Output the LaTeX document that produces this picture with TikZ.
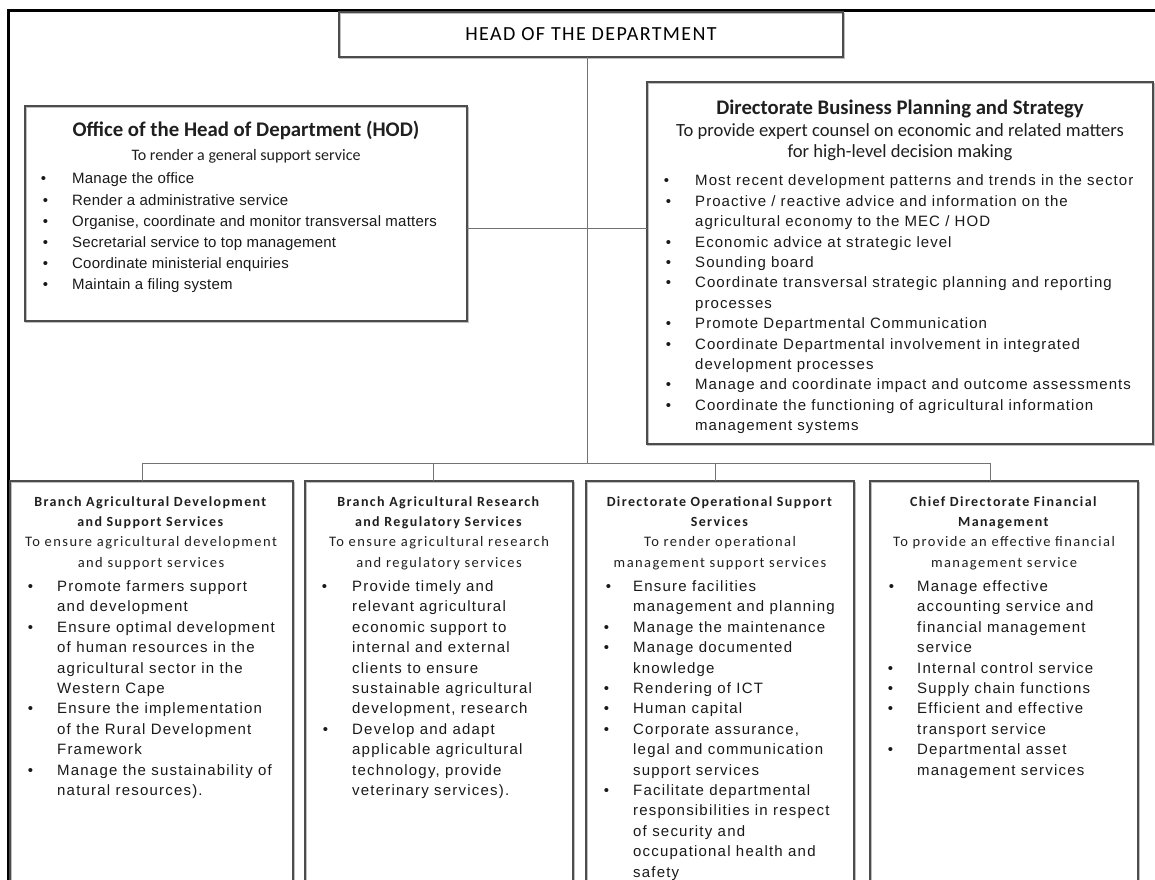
\documentclass[tikz,border=0pt]{standalone}
\usepackage{fontspec}
\setmainfont{Liberation Sans}
\newfontfamily\calR{Carlito}
\newfontfamily\calH{Carlito}[LetterSpace=7]
\newfontfamily\calS{Carlito}[LetterSpace=10]
\newfontfamily\arT{Liberation Sans}[LetterSpace=1.5]
\newfontfamily\arR{Liberation Sans}[LetterSpace=7]
\newfontfamily\arB{Liberation Sans}[LetterSpace=8]
\def\bg{24pt}
\newcommand\bl[1]{\strut\llap{\textbullet\hskip\bg}#1}
\newcommand\hsub{\fontsize{14.5}{20.4}\selectfont}
\tikzset{
  box/.style={draw=black!70, line width=1.2pt, inner sep=0pt, outer sep=0pt, anchor=north west,
    preaction={draw=black!25, line width=1.2pt, transform canvas={shift={(1pt,-1.4pt)}}}},
  conn/.style={draw=black!55, line width=1pt},
  txt/.style={inner sep=0pt, text=black!88},
  hdr/.style={inner sep=0pt, anchor=north, align=center, text=black!88, font=\calS\fontsize{14}{20.4}\selectfont},
  lst/.style={inner sep=0pt, anchor=north west, align=left, text=black!90},
  blst/.style={lst, font=\arB\fontsize{15}{20.4}\selectfont},
}
\begin{document}
\begin{tikzpicture}[x=1pt,y=-1pt]
\useasboundingbox (0,0) rectangle (1155,879);
\clip (0,0) rectangle (1155,879);
% outer frame
\draw[line width=3pt, line cap=rect] (8,879) -- (8,10) -- (1155,10);

% boxes
\node[box, minimum width=504pt, minimum height=45pt, font=\calH\fontsize{20}{22}\selectfont] (head) at (339,12) {HEAD OF THE DEPARTMENT};
\node[box, minimum width=442pt, minimum height=215pt] (hod) at (25,106) {};
\node[box, minimum width=506pt, minimum height=362pt] (dbp) at (647,82) {};
\node[box, minimum width=283pt, minimum height=430pt] (b1) at (10,481) {};
\node[box, minimum width=268pt, minimum height=430pt] (b2) at (305,481) {};
\node[box, minimum width=268pt, minimum height=430pt] (b3) at (586,481) {};
\node[box, minimum width=268pt, minimum height=430pt] (b4) at (870,481) {};

% connectors
\coordinate (tk) at (587,463);
\coordinate (lk) at (587,228);
\coordinate (t1) at (142,463);
\coordinate (t2) at (433,463);
\coordinate (t3) at (715,463);
\coordinate (t4) at (990,463);
\draw[conn] (head.south -| tk) -- (tk);
\draw[conn] (hod.east |- lk) -- (dbp.west |- lk);
\draw[conn] (t1) -- (t4);
\draw[conn] (t1) -- (t1 |- b1.north);
\draw[conn] (t2) -- (t2 |- b2.north);
\draw[conn] (t3) -- (t3 |- b3.north);
\draw[conn] (t4) -- (t4 |- b4.north);

% Office of HOD
\node[txt, anchor=base, font=\calR\bfseries\fontsize{20.8}{24}\selectfont] (hodT) at (246,136) {Office of the Head of Department (HOD)};
\node[txt, anchor=base, font=\calR\fontsize{16}{20}\selectfont] (hodS) at (246,160.5) {To render a general support service};
\node[lst, font=\arT\fontsize{15}{21.2}\selectfont] (hodL) at (72,168.8) {\def\bg{26pt}%
\bl{Manage the office}\\
\bl{Render a administrative service}\\
\bl{Organise, coordinate and monitor transversal matters}\\
\bl{Secretarial service to top management}\\
\bl{Coordinate ministerial enquiries}\\
\bl{Maintain a filing system}};

% Directorate Business Planning and Strategy
\node[txt, anchor=base, font=\calR\bfseries\fontsize{20.7}{24}\selectfont] (dbpT) at (900,114) {Directorate Business Planning and Strategy};
\node[txt, anchor=north, align=center, font=\calR\fontsize{18.6}{21}\selectfont] (dbpS) at (900,121.5) {\strut To provide expert counsel on economic and related matters\\ for high-level decision making};
\node[lst, font=\arR\fontsize{15}{20.4}\selectfont] (dbpL) at (695,171.5) {\def\bg{26pt}%
\bl{Most recent development patterns and trends in the sector}\\
\bl{Proactive / reactive advice and information on the}\\
agricultural economy to the MEC / HOD\\
\bl{Economic advice at strategic level}\\
\bl{Sounding board}\\
\bl{Coordinate transversal strategic planning and reporting}\\
processes\\
\bl{Promote Departmental Communication}\\
\bl{Coordinate Departmental involvement in integrated}\\
development processes\\
\bl{Manage and coordinate impact and outcome assessments}\\
\bl{Coordinate the functioning of agricultural information}\\
management systems};

% Branch Agricultural Development and Support Services
\node[hdr] (b1T) at (151,491.7) {\strut\textbf{Branch Agricultural Development}\\ \textbf{and Support Services}\\ \hsub To ensure agricultural development\\ \hsub and support services};
\node[blst] (b1L) at (57,577) {\def\bg{24pt}%
\bl{Promote farmers support}\\
and development\\
\bl{Ensure optimal development}\\
of human resources in the\\
agricultural sector in the\\
Western Cape\\
\bl{Ensure the implementation}\\
of the Rural Development\\
Framework\\
\bl{Manage the sustainability of}\\
natural resources).};

% Branch Agricultural Research and Regulatory Services
\node[hdr] (b2T) at (439,491.7) {\strut\textbf{Branch Agricultural Research}\\ \textbf{and Regulatory Services}\\ \hsub To ensure agricultural research\\ \hsub and regulatory services};
\node[blst] (b2L) at (352,577) {\def\bg{25pt}%
\bl{Provide timely and}\\
relevant agricultural\\
economic support to\\
internal and external\\
clients to ensure\\
sustainable agricultural\\
development, research\\
\bl{Develop and adapt}\\
applicable agricultural\\
technology, provide\\
veterinary services).};

% Directorate Operational Support Services
\node[hdr] (b3T) at (720,491.7) {\strut\textbf{Directorate Operational Support}\\ \textbf{Services}\\ \hsub To render operational\\ \hsub management support services};
\node[blst] (b3L) at (633,577) {\def\bg{22pt}%
\bl{Ensure facilities}\\
management and planning\\
\bl{Manage the maintenance}\\
\bl{Manage documented}\\
knowledge\\
\bl{Rendering of ICT}\\
\bl{Human capital}\\
\bl{Corporate assurance,}\\
legal and communication\\
support services\\
\bl{Facilitate departmental}\\
responsibilities in respect\\
of security and\\
occupational health and\\
safety};

% Chief Directorate Financial Management
\node[hdr] (b4T) at (1004,491.7) {\strut\textbf{Chief Directorate Financial}\\ \textbf{Management}\\ \hsub To provide an effective financial\\ \hsub management service};
\node[blst] (b4L) at (917,577) {\def\bg{23pt}%
\bl{Manage effective}\\
accounting service and\\
financial management\\
service\\
\bl{Internal control service}\\
\bl{Supply chain functions}\\
\bl{Efficient and effective}\\
transport service\\
\bl{Departmental asset}\\
management services};
\end{tikzpicture}
\end{document}
